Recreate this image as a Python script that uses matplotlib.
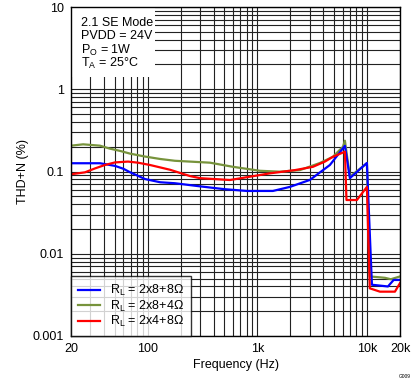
import matplotlib
matplotlib.use('Agg')
import matplotlib.pyplot as plt
import matplotlib.ticker as mticker
from matplotlib.patches import Rectangle
import numpy as np

plt.rcParams['font.family'] = ['Liberation Sans', 'DejaVu Sans']

# RL = 2x8+8 ohm
freq_blue = [20, 36.8, 50.4, 60, 69, 81, 94.5, 130, 177, 250, 300, 500, 804, 1387,
             1982, 3016, 4590, 6290, 6985, 9980, 11090, 15520, 17500, 20000]
thd_blue = [0.126, 0.126, 0.117, 0.108, 0.098, 0.089, 0.081, 0.074, 0.072, 0.068, 0.066, 0.061,
            0.058, 0.058, 0.065, 0.079, 0.12, 0.205, 0.083, 0.127, 0.0042, 0.0040, 0.0048, 0.0048]

# RL = 2x8+4 ohm
freq_green = [20, 25.8, 36.8, 45, 56, 69, 94.5, 130, 177, 370, 600, 1058, 1608, 2447,
              3725, 4890, 6036, 6290, 6985, 9980, 10600, 14560, 16500, 20000]
thd_green = [0.206, 0.214, 0.206, 0.19, 0.178, 0.165, 0.152, 0.142, 0.135, 0.128, 0.114, 0.102,
             0.0995, 0.104, 0.127, 0.151, 0.2, 0.237, 0.0865, 0.126, 0.0053, 0.0051, 0.0049, 0.0053]

# RL = 2x4+8 ohm
freq_red = [20, 26.8, 33.1, 40.8, 50.4, 66.2, 81.6, 105, 160, 243, 300, 563, 857,
            1304, 2204, 3215, 4135, 4890, 6290, 6500, 6840, 8090, 9980, 10600, 13120,
            17980, 20000]
thd_red = [0.0925, 0.0977, 0.109, 0.12, 0.129, 0.132, 0.128, 0.12, 0.105, 0.088, 0.083, 0.0788,
           0.0865, 0.095, 0.104, 0.114, 0.132, 0.151, 0.174, 0.045, 0.045, 0.045, 0.0649,
           0.0038, 0.00346, 0.00346, 0.0044]

x_ticks = [20, 100, 1000, 10000, 20000]
x_labels = ['20', '100', '1k', '10k', '20k']
y_ticks = [0.001, 0.01, 0.1, 1, 10]
y_labels = ['0.001', '0.01', '0.1', '1', '10']

fig = plt.figure(figsize=(4.19, 3.82), dpi=100)
ax = fig.add_axes([71 / 419, 1 - 336 / 382, 329 / 419, 329 / 382])

ax.plot(freq_blue, thd_blue, color='#0000FF', lw=1.6, label=r'R$_\mathregular{L}$ = 2x8+8Ω', zorder=4)
ax.plot(freq_green, thd_green, color='#77933C', lw=1.6, label=r'R$_\mathregular{L}$ = 2x8+4Ω', zorder=3)
ax.plot(freq_red, thd_red, color='#FF0000', lw=1.6, label=r'R$_\mathregular{L}$ = 2x4+8Ω', zorder=5)

ax.set_xscale('log')
ax.set_yscale('log')
ax.set_xlim(20, 20000)
ax.set_ylim(0.001, 10)

ax.xaxis.set_major_locator(mticker.FixedLocator(x_ticks))
ax.xaxis.set_major_formatter(mticker.FixedFormatter(x_labels))
ax.xaxis.set_minor_locator(mticker.LogLocator(base=10, subs=np.arange(2, 10)))
ax.xaxis.set_minor_formatter(mticker.NullFormatter())
ax.yaxis.set_major_locator(mticker.FixedLocator(y_ticks))
ax.yaxis.set_major_formatter(mticker.FixedFormatter(y_labels))
ax.yaxis.set_minor_locator(mticker.LogLocator(base=10, subs=np.arange(2, 10)))
ax.yaxis.set_minor_formatter(mticker.NullFormatter())

ax.grid(True, which='both', color='#222222', lw=0.8)
ax.tick_params(which='both', length=0, labelsize=9, pad=5)
for s in ax.spines.values():
    s.set_color('black')
    s.set_linewidth(1.0)
    s.set_zorder(6)

ax.set_xlabel('Frequency (Hz)', fontsize=9, labelpad=3)
ax.set_ylabel('THD+N (%)', fontsize=9, labelpad=3)

# white box with the test conditions
ax.add_patch(Rectangle((0, 0.787), 0.255, 0.213, transform=ax.transAxes,
                       facecolor='white', edgecolor='none', zorder=2.5))
cond = ['2.1 SE Mode', 'PVDD = 24V', r'P$_\mathregular{O}$ = 1W', r'T$_\mathregular{A}$ = 25°C']
for i, t in enumerate(cond):
    ax.text(0.03, 0.952 - i * 0.0415, t, transform=ax.transAxes, fontsize=9,
            va='center', ha='left', zorder=7)

leg = ax.legend(loc='lower left', fontsize=9, frameon=True, fancybox=False,
                borderaxespad=0, handlelength=1.8, handletextpad=0.8,
                borderpad=0.55, labelspacing=0.02)
leg.get_frame().set_edgecolor('black')
leg.get_frame().set_linewidth(1.0)
leg.set_zorder(8)

fig.text(405 / 419, 1 - 377 / 382, 'G009', fontsize=3.5, ha='center', va='center')

fig.savefig('out.png', dpi=100)
